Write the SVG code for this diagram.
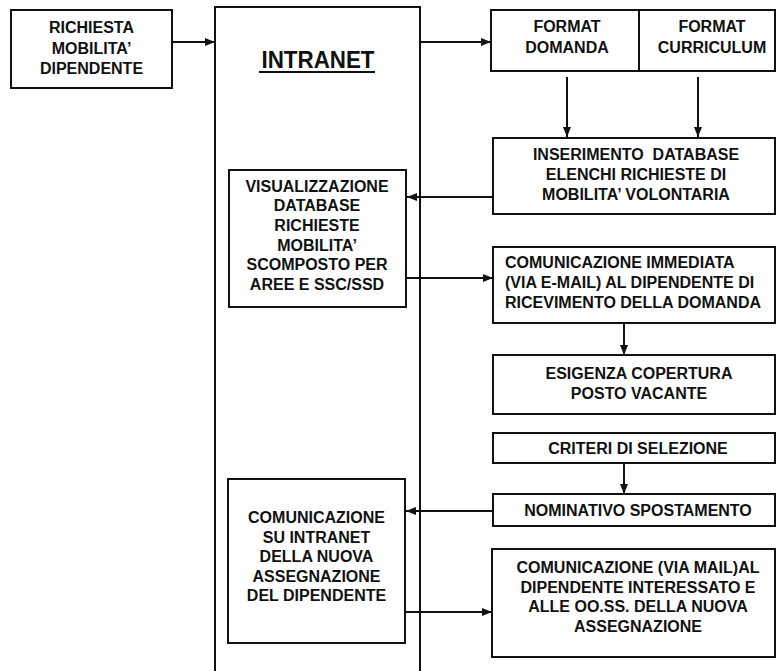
<svg xmlns="http://www.w3.org/2000/svg" width="776" height="671" viewBox="0 0 776 671">
<style>
.box{fill:#fff;stroke:#111;stroke-width:2}
.t{font-family:"Liberation Sans",Arial,sans-serif;font-weight:bold;font-size:16px;fill:#111;text-anchor:middle}
.l{text-anchor:start}
.c{stroke:#111;stroke-width:2;fill:none;marker-end:url(#ah)}
</style>
<defs>
<marker id="ah" viewBox="0 0 10 8" refX="10" refY="4" markerWidth="10" markerHeight="8" markerUnits="userSpaceOnUse" orient="auto">
<path d="M0,0 L10,4 L0,8 z" fill="#111"/>
</marker>
</defs>
<rect width="776" height="671" fill="#fff"/>

<g id="intranet">
<path d="M215,671 V7 H420 V671" fill="none" stroke="#111" stroke-width="2"/>
<text x="318" y="68" class="t" style="font-size:24px" textLength="113" lengthAdjust="spacingAndGlyphs">INTRANET</text>
<line x1="259" y1="72" x2="375" y2="72" stroke="#111" stroke-width="2"/>
</g>

<g id="richiesta">
<rect class="box" x="11" y="10" width="161" height="78"/>
<text class="t" x="91.5" y="33">RICHIESTA</text>
<text class="t" x="91.5" y="53.5">MOBILITA’</text>
<text class="t" x="91.5" y="74">DIPENDENTE</text>
</g>

<g id="format">
<rect class="box" x="491" y="10" width="284" height="61"/>
<line x1="639" y1="10" x2="639" y2="71" stroke="#111" stroke-width="2"/>
<text class="t" x="567" y="32">FORMAT</text>
<text class="t" x="567" y="53">DOMANDA</text>
<text class="t" x="712" y="32">FORMAT</text>
<text class="t" x="712" y="53">CURRICULUM</text>
</g>

<g id="inserimento">
<rect class="box" x="493" y="138" width="282" height="76"/>
<text class="t" x="636" y="160" xml:space="preserve">INSERIMENTO  DATABASE</text>
<text class="t" x="636" y="180">ELENCHI RICHIESTE DI</text>
<text class="t" x="636" y="200">MOBILITA’ VOLONTARIA</text>
</g>

<g id="visualizzazione">
<rect class="box" x="229" y="170" width="177" height="137"/>
<text class="t" x="317" y="191.7">VISUALIZZAZIONE</text>
<text class="t" x="317" y="211.3">DATABASE</text>
<text class="t" x="317" y="230.9">RICHIESTE</text>
<text class="t" x="317" y="250.5">MOBILITA’</text>
<text class="t" x="317" y="270.1">SCOMPOSTO PER</text>
<text class="t" x="317" y="289.7">AREE E SSC/SSD</text>
</g>

<g id="comunicazione-immediata">
<rect class="box" x="493" y="247" width="282" height="76"/>
<text class="t l" x="505" y="268">COMUNICAZIONE IMMEDIATA</text>
<text class="t l" x="505" y="288">(VIA E-MAIL) AL DIPENDENTE DI</text>
<text class="t l" x="505" y="308">RICEVIMENTO DELLA DOMANDA</text>
</g>

<g id="esigenza">
<rect class="box" x="493" y="355" width="282" height="59"/>
<text class="t" x="639" y="379">ESIGENZA COPERTURA</text>
<text class="t" x="639" y="399">POSTO VACANTE</text>
</g>

<g id="criteri">
<rect class="box" x="493" y="433" width="282" height="30"/>
<text class="t" x="638" y="454">CRITERI DI SELEZIONE</text>
</g>

<g id="nominativo">
<rect class="box" x="493" y="494" width="282" height="32"/>
<text class="t" x="638" y="516">NOMINATIVO SPOSTAMENTO</text>
</g>

<g id="comunicazione-intranet">
<rect class="box" x="228" y="479" width="177" height="164"/>
<text class="t" x="316.5" y="523.3">COMUNICAZIONE</text>
<text class="t" x="316.5" y="542.7">SU INTRANET</text>
<text class="t" x="316.5" y="562.1">DELLA NUOVA</text>
<text class="t" x="316.5" y="581.5">ASSEGNAZIONE</text>
<text class="t" x="316.5" y="601">DEL DIPENDENTE</text>
</g>

<g id="comunicazione-mail">
<rect class="box" x="492" y="549" width="283" height="108"/>
<text class="t" x="638" y="573">COMUNICAZIONE (VIA MAIL)AL</text>
<text class="t" x="638" y="592.7">DIPENDENTE INTERESSATO E</text>
<text class="t" x="638" y="612.4">ALLE OO.SS. DELLA NUOVA</text>
<text class="t" x="638" y="632">ASSEGNAZIONE</text>
</g>

<g id="connectors">
<line class="c" x1="172" y1="42" x2="215" y2="42"/>
<line class="c" x1="420" y1="42" x2="491" y2="42"/>
<line class="c" x1="567" y1="77" x2="567" y2="137"/>
<line class="c" x1="698" y1="77" x2="698" y2="137"/>
<line class="c" x1="493" y1="197" x2="407" y2="197"/>
<line class="c" x1="406" y1="278" x2="493" y2="278"/>
<line class="c" x1="624" y1="323" x2="624" y2="355"/>
<line class="c" x1="624" y1="463" x2="624" y2="494"/>
<line class="c" x1="493" y1="511" x2="406" y2="511"/>
<line class="c" x1="405" y1="612" x2="492" y2="612"/>
</g>
</svg>
